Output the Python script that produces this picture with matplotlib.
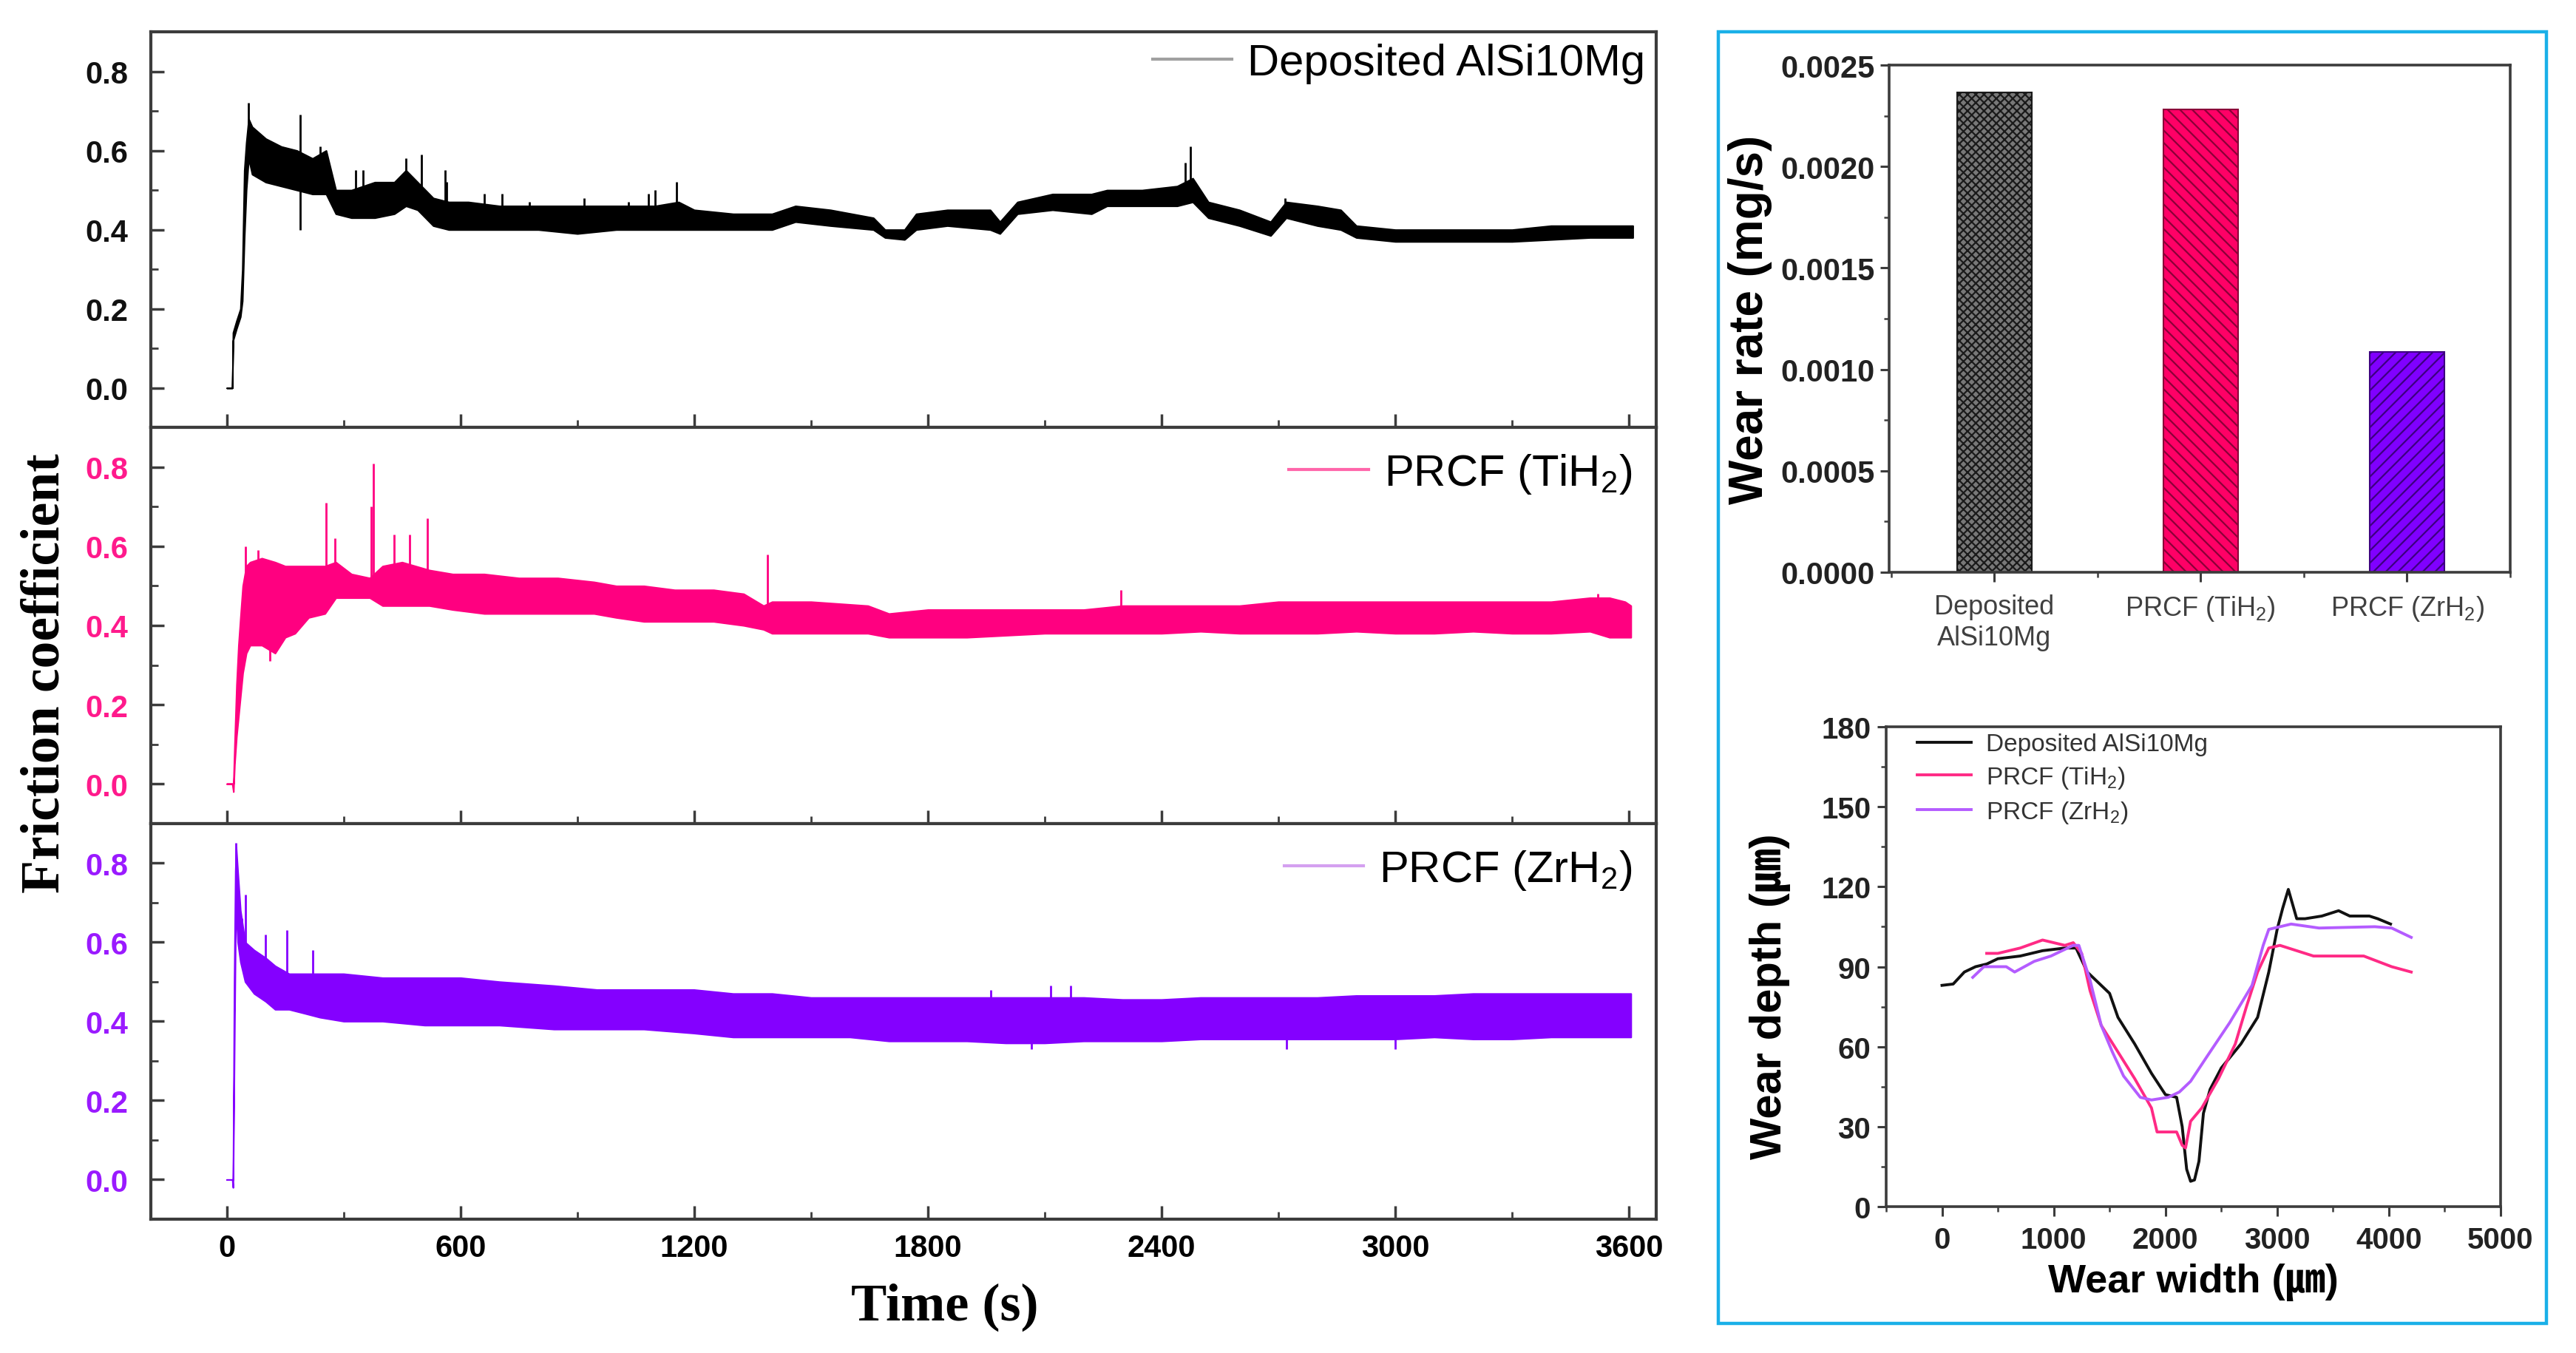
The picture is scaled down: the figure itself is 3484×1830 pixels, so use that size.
import numpy as np
import matplotlib
matplotlib.use("Agg")
import matplotlib.pyplot as plt
from matplotlib.lines import Line2D
from matplotlib.patches import Rectangle
from matplotlib.ticker import MultipleLocator, FixedLocator

plt.rcParams['font.family'] = ['Liberation Sans', 'Noto Sans CJK KR', 'DejaVu Sans']
plt.rcParams['mathtext.default'] = 'regular'
plt.rcParams['hatch.linewidth'] = 1.6

# ---------------- data: friction coefficient envelopes ----------------
t_blk = [0, 14, 16, 19, 25, 35, 40, 45, 50, 56, 65, 100, 140, 180, 220, 255, 280, 320, 380, 430,
         460, 490, 530, 570, 620, 700, 800, 900, 1000, 1100, 1160, 1200, 1300, 1400, 1460, 1550,
         1660, 1690, 1740, 1770, 1850, 1960, 1985, 2030, 2120, 2220, 2260, 2350, 2440, 2480, 2520,
         2600, 2680, 2720, 2800, 2860, 2900, 3000, 3100, 3200, 3300, 3400, 3500, 3610]
lo_blk = [0, 0, 0.12, 0.13, 0.15, 0.18, 0.22, 0.38, 0.50, 0.58, 0.54, 0.52, 0.51, 0.50, 0.49, 0.49,
          0.44, 0.43, 0.43, 0.44, 0.46, 0.45, 0.41, 0.40, 0.40, 0.40, 0.40, 0.39, 0.40, 0.40, 0.40,
          0.40, 0.40, 0.40, 0.42, 0.41, 0.40, 0.38, 0.375, 0.40, 0.41, 0.40, 0.39, 0.44, 0.45, 0.44,
          0.46, 0.46, 0.46, 0.47, 0.43, 0.41, 0.385, 0.43, 0.41, 0.40, 0.38, 0.37, 0.37, 0.37, 0.37,
          0.375, 0.38, 0.38]
hi_blk = [0, 0, 0.14, 0.15, 0.17, 0.20, 0.30, 0.55, 0.62, 0.68, 0.66, 0.63, 0.61, 0.60, 0.58, 0.60,
          0.50, 0.50, 0.52, 0.52, 0.55, 0.52, 0.48, 0.47, 0.47, 0.46, 0.46, 0.46, 0.46, 0.46, 0.47,
          0.45, 0.44, 0.44, 0.46, 0.45, 0.43, 0.40, 0.40, 0.44, 0.45, 0.45, 0.42, 0.47, 0.49, 0.49,
          0.50, 0.50, 0.51, 0.53, 0.47, 0.45, 0.42, 0.47, 0.46, 0.45, 0.41, 0.40, 0.40, 0.40, 0.40,
          0.41, 0.41, 0.41]
spk_t_blk = [56, 188, 188, 240, 330, 349, 460, 500, 560, 565, 661, 706, 776, 917, 1032, 1083,
             1100, 1154, 2460, 2474, 2717]
spk_v_blk = [0.72, 0.69, 0.40, 0.61, 0.55, 0.55, 0.58, 0.59, 0.55, 0.52, 0.49, 0.49, 0.47, 0.48,
             0.47, 0.49, 0.50, 0.52, 0.57, 0.61, 0.48]

t_pnk = [0, 14, 17, 20, 25, 30, 35, 41, 50, 60, 90, 124, 150, 175, 210, 252, 280, 320, 367, 400,
         450, 520, 580, 661, 750, 850, 943, 1000, 1071, 1150, 1250, 1327, 1378, 1400, 1500, 1646,
         1700, 1800, 1900, 2000, 2100, 2200, 2300, 2400, 2500, 2600, 2700, 2800, 2900, 3000, 3100,
         3200, 3300, 3400, 3500, 3550, 3590, 3605]
lo_pnk = [0, 0, -0.02, 0.05, 0.12, 0.17, 0.22, 0.28, 0.33, 0.35, 0.35, 0.33, 0.37, 0.38, 0.42, 0.43,
          0.47, 0.47, 0.47, 0.45, 0.45, 0.45, 0.44, 0.43, 0.43, 0.43, 0.43, 0.42, 0.41, 0.41, 0.41,
          0.40, 0.39, 0.38, 0.38, 0.38, 0.37, 0.37, 0.37, 0.375, 0.38, 0.38, 0.38, 0.38, 0.385, 0.38,
          0.38, 0.38, 0.385, 0.38, 0.38, 0.385, 0.38, 0.38, 0.385, 0.37, 0.37, 0.37]
hi_pnk = [0, 0, 0.0, 0.10, 0.25, 0.35, 0.42, 0.50, 0.55, 0.56, 0.57, 0.56, 0.55, 0.55, 0.55, 0.55,
          0.56, 0.53, 0.52, 0.55, 0.56, 0.54, 0.53, 0.53, 0.52, 0.52, 0.51, 0.50, 0.50, 0.49, 0.49,
          0.48, 0.45, 0.46, 0.46, 0.45, 0.43, 0.44, 0.44, 0.44, 0.44, 0.44, 0.45, 0.45, 0.45, 0.45,
          0.46, 0.46, 0.46, 0.46, 0.46, 0.46, 0.46, 0.46, 0.47, 0.47, 0.46, 0.45]
spk_t_pnk = [48, 80, 110, 254, 277, 370, 377, 430, 470, 515, 1388, 2295, 3520]
spk_v_pnk = [0.60, 0.59, 0.31, 0.71, 0.62, 0.70, 0.81, 0.63, 0.63, 0.67, 0.58, 0.49, 0.48]

t_vio = [0, 14, 16, 19, 22, 24, 28, 35, 47, 70, 100, 124, 160, 200, 239, 300, 400, 508, 600, 700,
         840, 950, 1071, 1199, 1300, 1400, 1500, 1600, 1700, 1800, 1900, 2000, 2100, 2200, 2300,
         2400, 2500, 2600, 2700, 2800, 2900, 3000, 3100, 3200, 3300, 3400, 3500, 3605]
lo_vio = [0, 0, -0.02, 0.30, 0.60, 0.70, 0.60, 0.55, 0.50, 0.47, 0.45, 0.43, 0.43, 0.42, 0.41, 0.40,
          0.40, 0.39, 0.39, 0.39, 0.38, 0.38, 0.38, 0.37, 0.36, 0.36, 0.36, 0.36, 0.35, 0.35, 0.35,
          0.345, 0.345, 0.35, 0.35, 0.35, 0.355, 0.355, 0.355, 0.355, 0.355, 0.355, 0.36, 0.355,
          0.355, 0.36, 0.36, 0.36]
hi_vio = [0, 0, 0.0, 0.50, 0.78, 0.84, 0.78, 0.68, 0.60, 0.58, 0.56, 0.54, 0.52, 0.52, 0.52, 0.52,
          0.51, 0.51, 0.51, 0.50, 0.49, 0.48, 0.48, 0.48, 0.47, 0.47, 0.46, 0.46, 0.46, 0.46, 0.46,
          0.46, 0.46, 0.46, 0.455, 0.455, 0.46, 0.46, 0.46, 0.46, 0.465, 0.465, 0.465, 0.47, 0.47,
          0.47, 0.47, 0.47]
spk_t_vio = [24, 38, 48, 100, 155, 220, 1962, 2065, 2116, 2167, 2720, 3000, 3350]
spk_v_vio = [0.85, 0.66, 0.72, 0.62, 0.63, 0.58, 0.48, 0.33, 0.49, 0.49, 0.33, 0.33, 0.47]

fric_labels = ['Deposited AlSi10Mg', 'PRCF (TiH$_2$)', 'PRCF (ZrH$_2$)']
time_ticks = [0, 600, 1200, 1800, 2400, 3000, 3600]
fric_ticks = [0.0, 0.2, 0.4, 0.6, 0.8]

# ---------------- data: wear rate ----------------
bar_categories = ['Deposited\nAlSi10Mg', 'PRCF (TiH$_2$)', 'PRCF (ZrH$_2$)']
wear_rate = [0.002366, 0.002283, 0.001086]
rate_ticks = ['0.0000', '0.0005', '0.0010', '0.0015', '0.0020', '0.0025']

# ---------------- data: wear depth profiles ----------------
wx_blk = [0, 100, 200, 300, 400, 500, 700, 900, 1100, 1200, 1300, 1400, 1500, 1575, 1725, 1875,
          2000, 2100, 2150, 2190, 2225, 2260, 2300, 2340, 2400, 2500, 2675, 2825, 2925, 3000, 3050,
          3100, 3175, 3250, 3400, 3550, 3650, 3825, 3900, 4015]
wy_blk = [83, 83.5, 88, 90, 91, 93, 94, 96, 97, 97, 88, 84, 80, 71, 61, 50, 42, 41, 30, 14, 9.5,
          10, 17, 35, 44, 52, 61, 71, 88, 104, 112, 119, 108, 108, 109, 111, 109, 109, 108, 106]
wx_pnk = [400, 500, 700, 900, 1000, 1100, 1175, 1250, 1325, 1425, 1575, 1725, 1875, 1925, 2025,
          2100, 2150, 2180, 2225, 2325, 2475, 2625, 2725, 2825, 2925, 3025, 3175, 3325, 3625, 3775,
          4025, 4200]
wy_pnk = [95, 95, 97, 100, 99, 98, 99, 95, 81, 68, 58, 48, 37, 28, 28, 28, 23, 22, 32, 37, 48, 61,
          75, 88, 97, 98, 96, 94, 94, 94, 90, 88]
wx_vio = [275, 375, 575, 650, 825, 975, 1175, 1225, 1325, 1425, 1525, 1625, 1775, 1875, 2025, 2125,
          2225, 2375, 2575, 2775, 2875, 2925, 3125, 3375, 3875, 4025, 4200]
wy_vio = [86, 90, 90, 88, 92, 94, 98, 98, 85, 68, 58, 49, 41, 40, 41, 43, 47, 56.5, 69, 83, 98,
          104, 106, 104.5, 105, 104.5, 101]

# ---------------- styling ----------------
C_BLK, C_PNK, C_VIO = '#000000', '#ff0080', '#8400ff'
TICK_COLORS = ['#111111', '#ff1a8c', '#9a1aff']
LEG_COLORS = ['#a0a0a0', '#ff66aa', '#d4a0f0']
SPINE = '#3c3c3c'
W, H = 3484, 1831
fig = plt.figure(figsize=(W / 100, H / 100), dpi=100)

def fx(px):
    return px / W

def fy(py):
    return 1 - py / H

# ---------------- left: friction panels ----------------
left_px, right_px, top_px, bot_px = 204, 2240, 44, 1650
ph = (bot_px - top_px) / 3
series = [(t_blk, lo_blk, hi_blk, spk_t_blk, spk_v_blk, C_BLK),
          (t_pnk, lo_pnk, hi_pnk, spk_t_pnk, spk_v_pnk, C_PNK),
          (t_vio, lo_vio, hi_vio, spk_t_vio, spk_v_vio, C_VIO)]
pads = [0.25, 0.55, 0.55]
for i, (t, lo, hi, st, sv, col) in enumerate(series):
    y0 = top_px + ph * (i + 1)
    ax = fig.add_axes([fx(left_px), fy(y0), fx(right_px - left_px), ph / H])
    t = np.asarray(t, float)
    lo = np.asarray(lo, float)
    hi = np.asarray(hi, float)
    ax.fill_between(t, lo, hi, color=col, lw=1.5, edgecolor=col)
    mid = np.interp(st, t, (lo + hi) / 2)
    ax.vlines(st, mid, sv, color=col, lw=2.0)
    ax.set_xlim(-195, 3670)
    ax.set_ylim(-0.1, 0.9)
    ax.xaxis.set_major_locator(FixedLocator(time_ticks))
    ax.xaxis.set_minor_locator(MultipleLocator(300))
    ax.yaxis.set_major_locator(FixedLocator(fric_ticks))
    ax.yaxis.set_minor_locator(MultipleLocator(0.1))
    ax.set_yticklabels([f'{v:.1f}' for v in fric_ticks], fontsize=30, fontweight='bold',
                       color=TICK_COLORS[i])
    ax.tick_params(which='major', direction='in', length=13, width=2.5, color=SPINE)
    ax.tick_params(which='minor', direction='in', length=7, width=2.0, color=SPINE)
    ax.tick_params(axis='y', pad=22)
    ax.tick_params(axis='x', pad=14)
    if i < 2:
        ax.tick_params(axis='x', labelbottom=False)
    else:
        ax.set_xticklabels([str(v) for v in time_ticks], fontsize=30, fontweight='bold')
    for s in ax.spines.values():
        s.set_color(SPINE)
        s.set_linewidth(3.0)
    h = Line2D([], [], color=LEG_COLORS[i], lw=3)
    ax.legend([h], [fric_labels[i]], loc='upper right', frameon=False, fontsize=43,
              handlelength=1.8, handletextpad=0.35, borderaxespad=0.0, borderpad=pads[i])

fig.text(fx(62), fy(911), 'Friction coefficient', rotation=90, ha='center', va='center',
         family='Liberation Serif', fontweight='bold', fontsize=53)
fig.text(fx(1278), fy(1768), 'Time (s)', ha='center', va='center',
         family='Liberation Serif', fontweight='bold', fontsize=52)

# ---------------- right: frame ----------------
fig.patches.append(Rectangle((fx(2324), fy(1791)), fx(3444 - 2324), (1791 - 44) / H,
                             transform=fig.transFigure, fill=False, edgecolor='#1ab0e8',
                             lw=3.2))

# ---------------- wear rate bars ----------------
axb = fig.add_axes([fx(2555), fy(775), fx(3395 - 2555), (775 - 89) / H])
xpos = np.arange(1, len(wear_rate) + 1)
fills = ['#787878', '#ff0066', '#8000ff']
edges = ['#1a1a1a', '#8a0038', '#3d0080']
hatches = ['xxx', '\\\\', '//']
for xp, v, fc, ec, hc in zip(xpos, wear_rate, fills, edges, hatches):
    axb.bar(xp, v, width=0.36, color=fc, edgecolor=ec, hatch=hc, lw=1.5)
axb.set_xlim(0.49, 3.5)
axb.set_ylim(0, 0.0025)
axb.set_xticks(xpos)
axb.set_xticklabels(bar_categories, fontsize=26, color='#404040', linespacing=1.25)
axb.xaxis.set_minor_locator(FixedLocator([0.5, 1.5, 2.5, 3.5]))
yt = [float(s) for s in rate_ticks]
axb.set_yticks(yt)
axb.set_yticklabels(rate_ticks, fontsize=30, fontweight='bold', color='#222222')
axb.yaxis.set_minor_locator(MultipleLocator(0.00025))
axb.tick_params(which='major', direction='out', length=9, width=2.2, color=SPINE, pad=5)
axb.tick_params(which='minor', direction='out', length=5, width=1.8, color=SPINE)
axb.tick_params(axis='x', pad=12)
for s in axb.spines.values():
    s.set_color(SPINE)
    s.set_linewidth(2.6)
axb.set_ylabel('Wear rate (mg/s)', fontsize=46, fontweight='bold', labelpad=8)

# ---------------- wear depth profiles ----------------
axd = fig.add_axes([fx(2551), fy(1633), fx(3382 - 2551), (1633 - 984) / H])
axd.plot(wx_blk, wy_blk, color='#111111', lw=2.8, label='Deposited AlSi10Mg')
axd.plot(wx_pnk, wy_pnk, color='#ff2a85', lw=2.8, label='PRCF (TiH$_2$)')
axd.plot(wx_vio, wy_vio, color='#b45cff', lw=2.8, label='PRCF (ZrH$_2$)')
axd.set_xlim(-500, 5000)
axd.set_ylim(0, 180)
axd.set_xticks([0, 1000, 2000, 3000, 4000, 5000])
axd.set_yticks([0, 30, 60, 90, 120, 150, 180])
axd.xaxis.set_minor_locator(MultipleLocator(500))
axd.yaxis.set_minor_locator(MultipleLocator(15))
for lab in axd.get_xticklabels() + axd.get_yticklabels():
    lab.set_fontsize(29)
    lab.set_fontweight('bold')
    lab.set_color('#222222')
axd.tick_params(which='major', direction='out', length=9, width=2.2, color=SPINE, pad=6)
axd.tick_params(which='minor', direction='out', length=5, width=1.8, color=SPINE)
axd.tick_params(axis='x', pad=10)
for s in axd.spines.values():
    s.set_color(SPINE)
    s.set_linewidth(2.6)
axd.set_xlabel('Wear width (㎛)', fontsize=39, fontweight='bold', labelpad=8)
axd.set_ylabel('Wear depth (㎛)', fontsize=43, fontweight='bold')
axd.yaxis.set_label_coords(-0.155, 0.44)
leg = axd.legend(loc='upper left', bbox_to_anchor=(0.04, 1.0), frameon=False, fontsize=24,
                 handlelength=2.2, handletextpad=0.6, borderaxespad=0.0, borderpad=0.25,
                 labelspacing=0.35)
for tx in leg.get_texts():
    tx.set_color('#333333')

fig.savefig('out.png', dpi=100)
